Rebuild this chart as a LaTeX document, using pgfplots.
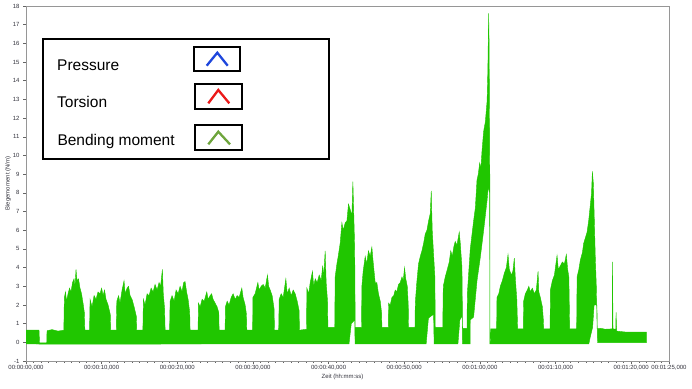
\documentclass[border=0pt]{standalone}
\usepackage{fontspec}
\setmainfont{Liberation Sans}
\usepackage{pgfplots}
\pgfplotsset{compat=1.18}
\definecolor{sig}{RGB}{32,198,0}
\definecolor{framegray}{RGB}{150,150,150}
\definecolor{axgray}{RGB}{100,100,100}
\definecolor{tickgray}{RGB}{50,50,60}
\definecolor{cblue}{RGB}{30,70,220}
\definecolor{cred}{RGB}{235,25,25}
\definecolor{cgreen}{RGB}{110,165,60}
\begin{document}
\begin{tikzpicture}
\useasboundingbox (0pt,0pt) rectangle (692pt,-388pt);
\begin{axis}[
  at={(26pt,-361pt)}, anchor=south west,
  scale only axis, width=643pt, height=355pt,
  xmin=0, xmax=85, ymin=-1, ymax=18,
  xtick={0,10,20,30,40,50,60,70,80,85},
  xticklabels={{00:00:00,000},{00:00:10,000},{00:00:20,000},{00:00:30,000},{00:00:40,000},{00:00:50,000},{00:01:00,000},{00:01:10,000},{00:01:20,000},{00:01:25,000}},
  minor xtick={1,2,...,84},
  ytick={-1,0,...,18},
  tick align=outside, xtick pos=left, ytick pos=left,
  major tick length=3pt, minor tick length=1.8pt,
  tick style={axgray, line width=0.5pt},
  axis line style={framegray, line width=0.8pt},
  ticklabel style={font=\fontsize{6}{7}\selectfont, text=tickgray},
  xticklabel style={inner sep=1pt},
  /pgf/number format/assume math mode=true,
  xlabel={Zeit (hh:mm:ss)}, ylabel={Biegemoment (N/m)},
  label style={font=\fontsize{6}{7}\selectfont, text=tickgray},
  xlabel style={at={(rel axis cs:0.5,0)}, anchor=center, yshift=-16pt, xshift=-5pt},
  ylabel shift=-5pt,
]
\addplot[fill=sig, draw=sig, line width=0.4pt] coordinates {
(0,0.65)(1.72,0.65)(1.79,-0.03)(2.74,-0.03)(2.78,0.62)(3.44,0.68)(4.23,0.6)(5.0,0.65)
(5.07,2.4)(5.22,2.7)(5.36,2.2)(5.56,2.6)(5.75,2.9)(5.95,2.7)(6.15,3.2)(6.35,3.4)(6.48,3.0)(6.61,3.9)(6.75,3.3)(6.94,3.4)(7.14,2.9)(7.34,2.6)(7.54,2.1)(7.71,1.6)(7.78,0.65)
(8.40,0.65)(8.47,2.3)(8.73,1.9)(9.00,2.5)(9.26,2.3)(9.52,2.7)(9.79,2.6)(9.99,2.9)(10.19,2.5)(10.38,2.8)(10.58,2.3)(10.85,2.0)(11.14,1.5)(11.20,0.65)
(11.93,0.65)(12.0,2.2)(12.24,2.5)(12.43,2.1)(12.70,2.8)(12.96,3.3)(13.10,2.6)(13.36,2.9)(13.56,3.0)(13.76,2.5)(14.02,2.3)(14.29,1.9)(14.58,1.4)(14.64,0.65)
(15.45,0.65)(15.52,2.3)(15.74,2.0)(16.01,2.6)(16.27,2.5)(16.54,2.9)(16.80,2.7)(17.06,3.1)(17.33,2.8)(17.59,3.2)(17.79,3.0)(18.03,3.9)(18.15,2.6)(18.32,1.8)(18.39,0.65)
(18.98,0.65)(19.05,2.2)(19.31,2.5)(19.58,2.2)(19.84,2.8)(20.11,2.6)(20.37,3.0)(20.63,2.7)(20.83,3.2)(21.03,3.25)(21.23,2.7)(21.43,2.3)(21.64,1.6)(21.69,0.65)
(22.75,0.65)(22.79,2.1)(23.02,1.9)(23.28,2.3)(23.55,2.2)(23.90,2.7)(24.07,2.3)(24.34,2.5)(24.54,2.6)(24.73,2.3)(25.00,2.1)(25.26,1.9)(25.48,1.6)(25.53,0.65)
(26.32,0.65)(26.36,1.9)(26.59,2.2)(26.85,2.0)(27.12,2.4)(27.38,2.6)(27.65,2.3)(27.91,2.5)(28.17,2.4)(28.53,2.9)(28.70,2.4)(28.97,2.0)(29.14,1.5)(29.19,0.65)
(29.96,0.65)(29.99,2.4)(30.29,2.6)(30.65,3.2)(30.82,2.8)(31.09,3.0)(31.35,3.1)(31.62,2.9)(31.92,3.6)(32.08,3.0)(32.28,2.8)(32.54,2.5)(32.79,1.8)(32.85,0.65)
(33.40,0.65)(33.47,2.3)(33.73,2.6)(34.00,2.4)(34.35,3.4)(34.53,2.6)(34.79,2.9)(35.05,2.5)(35.32,2.8)(35.58,2.6)(35.85,2.2)(36.10,1.7)(36.15,0.65)
(37.08,0.7)(37.13,2.9)(37.37,2.6)(37.57,3.2)(37.87,3.8)(38.03,3.0)(38.23,3.4)(38.49,3.2)(38.76,3.6)(39.02,3.3)(39.22,4.1)(39.35,3.5)(39.55,4.9)(39.68,3.2)(39.86,2.2)(39.91,0.8)
(40.81,0.8)(40.87,3.5)(41.10,4.2)(41.27,4.6)(41.53,5.3)(41.76,6.4)(41.93,6.0)(42.20,6.4)(42.42,6.5)(42.63,7.4)(42.86,7.1)(43.08,6.8)(43.21,8.6)(43.32,7.0)(43.45,5.0)(43.52,0.8)
(44.35,0.8)(44.40,3.0)(44.57,3.8)(44.84,4.6)(45.04,4.2)(45.27,4.9)(45.50,4.6)(45.72,5.1)(45.89,4.3)(46.16,3.2)(46.38,3.2)(46.59,2.6)(46.83,2.2)(47.00,1.6)(47.05,0.8)
(47.89,0.8)(47.93,2.1)(48.15,2.0)(48.37,2.4)(48.61,2.5)(48.81,2.8)(49.01,2.7)(49.25,3.1)(49.47,3.2)(49.70,3.5)(49.87,3.3)(50.04,4.0)(50.20,3.4)(50.40,3.0)(50.53,2.0)(50.57,0.8)
(51.42,0.8)(51.46,2.1)(51.66,3.2)(51.89,4.2)(52.12,4.6)(52.34,4.9)(52.56,5.3)(52.78,5.8)(53.00,6.0)(53.22,6.5)(53.44,6.9)(53.57,8.1)(53.70,6.0)(53.88,4.7)(54.05,3.5)(54.10,0.8)
(55.09,0.8)(55.16,3.0)(55.42,3.5)(55.69,3.9)(55.95,4.3)(56.15,4.9)(56.35,4.6)(56.55,5.1)(56.74,5.4)(56.97,5.2)(57.27,5.9)(57.41,5.3)(57.63,4.0)(57.71,0.75)
(58.30,0.75)(58.34,2.6)(58.73,5.0)(59.17,6.5)(59.40,7.2)(59.62,8.7)(59.79,9.0)(59.97,9.6)(60.13,9.3)(60.29,10.3)(60.50,11.3)(60.72,11.8)(60.95,12.9)(61.05,14.5)(61.16,17.6)(61.22,16.0)(61.27,12.0)(61.31,9.0)(61.33,0.05)(61.40,0.05)(61.44,0.72)
(62.21,0.72)(62.26,2.4)(62.50,2.6)(62.70,3.0)(62.97,3.3)(63.23,3.7)(63.50,4.0)(63.72,4.7)(63.89,3.9)(64.16,3.6)(64.36,3.8)(64.55,4.5)(64.69,3.4)(64.88,2.3)(64.99,0.72)
(65.74,0.72)(65.78,2.2)(66.01,2.6)(66.27,2.8)(66.47,3.0)(66.67,2.7)(66.93,2.9)(67.20,2.6)(67.46,2.8)(67.69,3.8)(67.79,2.7)(67.99,2.4)(68.26,1.9)(68.39,1.2)(68.43,0.72)
(69.28,0.72)(69.32,2.8)(69.58,3.3)(69.85,3.6)(70.20,4.65)(70.37,3.9)(70.64,4.1)(70.90,4.3)(71.17,4.2)(71.43,4.7)(71.60,3.9)(71.76,3.5)(71.87,0.72)
(72.79,0.72)(72.85,3.5)(73.08,3.9)(73.28,4.4)(73.55,4.8)(73.72,5.3)(73.95,5.6)(74.17,5.9)(74.38,6.5)(74.61,7.4)(74.76,8.0)(74.87,9.15)(75.00,8.5)(75.13,6.5)(75.26,4.5)(75.39,3.0)(75.50,0.72)
(75.93,0.75)(76.59,0.7)(77.49,0.72)(77.52,4.3)(77.60,0.72)(77.96,0.7)(78.0,1.6)(78.08,0.6)(79.24,0.55)(80.56,0.55)(82.01,0.55)
(82.01,-0.02)(75.55,-0.02)(75.47,2.0)(75.1,2.0)(74.9,0.8)(74.6,0.3)(74.4,-0.08)
(61.44,-0.08)(61.32,-0.08)(61.29,8.0)(61.10,8.3)(60.95,7.6)(60.50,6.0)(60.06,4.56)(59.62,3.3)(59.17,1.35)(58.73,1.2)(58.70,-0.08)
(57.70,-0.08)(57.66,1.4)(57.35,1.2)(57.1,-0.08)
(53.95,-0.08)(53.88,1.5)(53.2,1.3)(52.9,-0.08)
(43.50,-0.08)(43.45,1.2)(43.0,1.0)(42.7,-0.08)
(2.74,-0.1)(0,-0.08)
} -- cycle;
\end{axis}
\begin{scope}[x=1pt,y=-1pt]
\draw[line width=2.3pt] (43,39) rectangle (329,159);
\draw[line width=2pt] (194,47) rectangle (240,71);
\draw[line width=2pt] (195,84) rectangle (242,109);
\draw[line width=2pt] (195,125) rectangle (242,150);
\draw[cblue, line width=2.3pt] (206.7,65.7) -- (217.3,52.7) -- (227.7,65.7);
\draw[cred, line width=2.3pt] (208.3,103.3) -- (218.3,90) -- (229.3,103.3);
\draw[cgreen, line width=2.3pt] (208.3,144.3) -- (218.3,131.7) -- (230,144.3);
\node[anchor=base west, inner sep=0pt, font=\fontsize{15.5}{18}\selectfont] at (57,70) {Pressure};
\node[anchor=base west, inner sep=0pt, font=\fontsize{15.5}{18}\selectfont] at (57,107.7) {Torsion};
\node[anchor=base west, inner sep=0pt, font=\fontsize{15.5}{18}\selectfont] at (57.3,145.7) {Bending moment};
\end{scope}
\end{tikzpicture}
\end{document}
